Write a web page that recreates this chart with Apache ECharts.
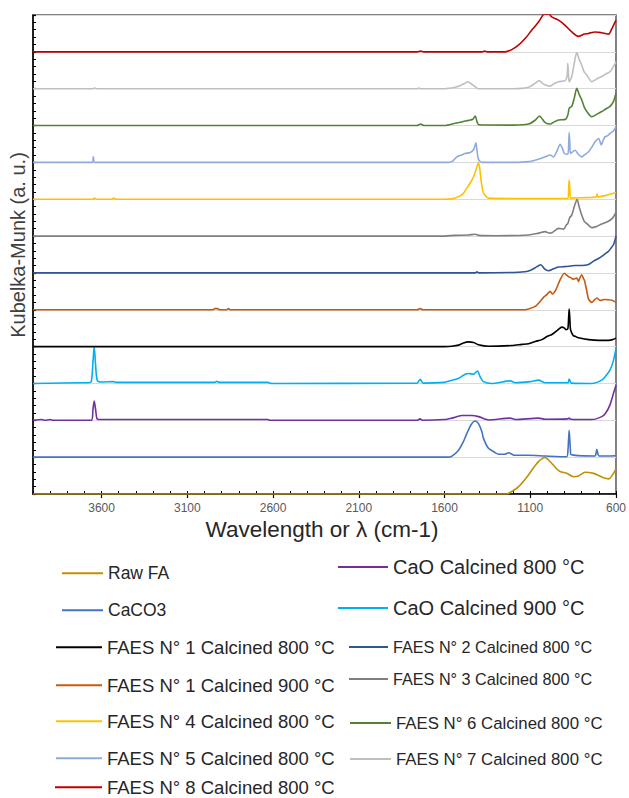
<!DOCTYPE html>
<html>
<head>
<meta charset="utf-8">
<script src="https://cdn.jsdelivr.net/npm/echarts@6/dist/echarts.min.js"></script>
<style>html,body{margin:0;padding:0;background:#fff}#c{width:629px;height:798px}</style>
</head>
<body>
<div id="c"></div>
<script>
// ---------- DATA ----------
const seriesNames = [
  'Raw FA','CaCO3','CaO Calcined 800 °C','CaO Calcined 900 °C',
  'FAES N° 1 Calcined 800 °C','FAES N° 1 Calcined 900 °C','FAES N° 2 Calcined 800 °C',
  'FAES N° 3 Calcined 800 °C','FAES N° 4 Calcined 800 °C','FAES N° 5 Calcined 800 °C',
  'FAES N° 6 Calcined 800 °C','FAES N° 7 Calcined 800 °C','FAES N° 8 Calcined 800 °C'
];
const offsets = [0,1,2,3,4,5,6,7,8,9,10,11,12];
const xTicks = [600,1100,1600,2100,2600,3100,3600];

const rawFA = [[4000,0],[1240,0],[1217,0.04],[1168,0.2],[1110,0.52],[1080,0.72],[1052,0.88],[1030,0.96],[1013,0.99],[995,0.93],[974,0.83],[950,0.7],[926,0.61],[887,0.56],[848,0.47],[819,0.49],[780,0.59],[731,0.56],[701,0.5],[673,0.44],[643,0.41],[620,0.52],[600,0.68]];
const caco3 = [[4000,0],[1580,0],[1557,0.03],[1518,0.19],[1490,0.42],[1470,0.64],[1445,0.88],[1421,0.98],[1402,0.91],[1382,0.69],[1373,0.51],[1344,0.24],[1310,0.14],[1285,0.08],[1250,0.08],[1227,0.12],[1200,0.06],[1188,0.05],[1110,0.05],[1013,0.03],[888,0.01],[880,0.2],[873,0.73],[866,0.2],[863,0.07],[722,0.03],[716,0.12],[712,0.21],[705,0.08],[698,0.03],[600,0.04]];
const cao800 = [[4000,0],[3950,0.02],[3930,0],[3900,0.02],[3880,0],[3660,0],[3650,0.3],[3643,0.52],[3635,0.3],[3625,0.03],[3600,0.02],[2630,0.02],[2620,0],[1760,0],[1742,0.04],[1730,0],[1600,0.02],[1557,0.06],[1500,0.13],[1440,0.13],[1402,0.1],[1360,0.03],[1344,0.01],[1217,0.06],[1188,0.02],[1052,0.06],[1013,0.03],[880,0.04],[873,0.06],[865,0.03],[741,0.02],[683,0.1],[660,0.2],[635,0.42],[614,0.74],[600,0.95]];
const cao900 = [[4000,0],[3720,0.02],[3680,0.02],[3660,0.05],[3650,0.6],[3643,1.0],[3635,0.5],[3625,0.08],[3600,0.04],[3530,0.05],[3515,0.03],[2940,0.03],[2929,0.06],[2915,0.03],[2630,0.03],[2610,0],[1760,0.01],[1742,0.11],[1725,0.01],[1600,0.03],[1577,0.06],[1518,0.14],[1480,0.25],[1460,0.27],[1431,0.25],[1408,0.34],[1392,0.18],[1373,0.05],[1324,0],[1217,0.07],[1188,0.02],[1100,0.05],[1052,0.09],[1013,0.02],[880,0.02],[873,0.12],[860,0.01],[741,0],[683,0.09],[660,0.2],[635,0.36],[615,0.62],[600,0.95]];
const faes1_800 = [[4000,0],[1600,0],[1557,0.01],[1518,0.04],[1490,0.1],[1460,0.13],[1430,0.11],[1402,0.05],[1344,0.01],[1207,0.03],[1150,0.06],[1110,0.08],[1070,0.14],[1032,0.19],[1000,0.28],[974,0.33],[940,0.45],[916,0.53],[900,0.5],[893,0.46],[881,0.48],[876,0.8],[873,1.02],[869,0.75],[865,0.46],[850,0.3],[838,0.28],[819,0.24],[760,0.19],[700,0.17],[643,0.17],[620,0.19],[600,0.23]];
const faes1_900 = [[4000,0],[2950,0],[2940,0.03],[2925,0.03],[2910,0],[2870,0],[2860,0.03],[2850,0],[1760,0],[1742,0.03],[1725,0],[1130,0],[1110,0.02],[1071,0.09],[1042,0.23],[1020,0.35],[1003,0.41],[984,0.5],[970,0.43],[951,0.54],[926,0.81],[901,0.99],[890,0.95],[877,0.9],[860,0.86],[848,0.83],[829,0.86],[819,0.77],[810,0.87],[800,0.95],[790,0.85],[784,0.8],[770,0.5],[760,0.29],[741,0.2],[725,0.27],[712,0.32],[692,0.25],[670,0.28],[643,0.27],[620,0.25],[600,0.2]];
const faes2 = [[4000,0],[1420,0],[1411,0.03],[1400,0],[1169,0.02],[1110,0.05],[1071,0.14],[1050,0.2],[1038,0.22],[1017,0.11],[994,0.06],[960,0.12],[935,0.16],[900,0.17],[877,0.18],[838,0.2],[800,0.2],[760,0.23],[731,0.32],[700,0.4],[683,0.45],[660,0.53],[643,0.59],[625,0.7],[614,0.77],[600,1.0]];
const faes3 = [[4000,0],[1600,0],[1538,0.02],[1460,0.03],[1421,0.05],[1400,0.02],[1300,0.01],[1110,0.03],[1050,0.08],[1013,0.12],[990,0.08],[974,0.09],[950,0.17],[935,0.21],[905,0.19],[890,0.3],[881,0.34],[870,0.5],[858,0.57],[843,0.8],[827,1.0],[815,0.8],[800,0.57],[785,0.4],[770,0.34],[741,0.23],[710,0.27],[683,0.33],[660,0.37],[635,0.43],[615,0.52],[600,0.64]];
const faes4 = [[4000,0],[3650,0],[3643,0.03],[3630,0],[3540,0],[3530,0.03],[3515,0],[1600,0],[1557,0.01],[1518,0.07],[1490,0.16],[1470,0.3],[1450,0.44],[1431,0.61],[1415,0.82],[1402,0.99],[1395,0.85],[1385,0.45],[1375,0.2],[1363,0.1],[1344,0.03],[1200,0.02],[880,0.02],[876,0.3],[873,0.52],[869,0.3],[865,0.03],[740,0.05],[715,0.06],[710,0.14],[705,0.06],[663,0.1],[630,0.14],[600,0.18]];
const faes5 = [[4000,0],[3655,0],[3648,0.15],[3640,0],[1580,0],[1557,0.02],[1528,0.15],[1500,0.2],[1480,0.24],[1450,0.27],[1430,0.35],[1417,0.53],[1410,0.3],[1402,0.08],[1382,0],[1200,0],[1110,0.02],[1050,0.09],[1013,0.15],[984,0.2],[964,0.15],[945,0.3],[926,0.49],[910,0.35],[901,0.24],[881,0.22],[876,0.5],[873,0.81],[869,0.5],[865,0.24],[850,0.3],[838,0.33],[820,0.22],[800,0.15],[780,0.22],[760,0.29],[740,0.42],[722,0.56],[701,0.65],[692,0.55],[686,0.47],[675,0.6],[663,0.7],[650,0.72],[635,0.79],[615,0.85],[600,0.97]];
const faes6 = [[4000,0],[1760,0],[1740,0.04],[1720,0],[1600,0],[1538,0.06],[1490,0.11],[1460,0.14],[1435,0.17],[1421,0.26],[1410,0.1],[1400,0.02],[1200,0.01],[1110,0.04],[1070,0.15],[1046,0.26],[1030,0.18],[1013,0.08],[984,0.04],[960,0.1],[935,0.15],[893,0.17],[880,0.3],[873,0.47],[858,0.52],[843,0.75],[829,1.01],[815,0.85],[800,0.7],[785,0.5],[770,0.38],[741,0.24],[710,0.31],[683,0.38],[660,0.45],[635,0.52],[615,0.65],[600,0.88]];
const faes7 = [[4000,0],[3650,0],[3643,0.02],[3630,0],[1760,0],[1752,0.02],[1740,0],[1600,0],[1538,0.04],[1510,0.08],[1480,0.15],[1464,0.19],[1440,0.12],[1420,0.05],[1402,0],[1200,0],[1110,0.04],[1070,0.15],[1048,0.22],[1030,0.15],[1013,0.1],[984,0.07],[960,0.14],[935,0.19],[897,0.22],[885,0.35],[881,0.69],[877,0.4],[873,0.19],[858,0.33],[843,0.7],[829,0.98],[815,0.8],[800,0.64],[785,0.45],[770,0.37],[741,0.19],[710,0.27],[683,0.33],[660,0.4],[635,0.46],[615,0.6],[600,0.73]];
const faes8 = [[4000,0],[1760,0],[1740,0.02],[1720,0],[1380,0],[1367,0.02],[1350,0],[1246,0],[1208,0.06],[1169,0.18],[1130,0.36],[1091,0.59],[1052,0.81],[1030,0.97],[1020,1.02],[990,1.02],[975,0.95],[935,0.86],[897,0.72],[858,0.54],[819,0.42],[800,0.45],[790,0.48],[760,0.5],[722,0.54],[700,0.53],[683,0.52],[643,0.48],[624,0.63],[600,0.86]];

const spectra = [rawFA,caco3,cao800,cao900,faes1_800,faes1_900,faes2,faes3,faes4,faes5,faes6,faes7,faes8];

// ---------- STYLE ----------
const colors = ['#bf9000','#4472c4','#7030a0','#00b0f0','#000000','#c55a11','#2f5597','#7f7f7f','#ffc000','#8faadc','#548235','#bfbfbf','#c00000'];
const FONT = "'Liberation Sans', Arial, sans-serif";
// legend layout: [seriesIndex, lineLeft, lineWidth, centerY, fontSize]
const legendLayout = [
  [0, 62, 41, 573, 17.5],
  [1, 62, 41, 610, 17.5],
  [4, 56, 46, 647, 18.5],
  [5, 56, 46, 685, 18.5],
  [8, 56, 46, 721, 18.5],
  [9, 56, 46, 758, 18.5],
  [12, 55, 47, 787, 18.5],
  [2, 338, 50, 567, 20],
  [3, 338, 50, 608, 20],
  [6, 349, 39, 647, 16.2],
  [7, 349, 39, 679, 16.2],
  [10, 350, 41, 723, 16.8],
  [11, 350, 41, 759, 16.8]
];

const chart = echarts.init(document.getElementById('c'), null, {renderer:'svg'});

const series = spectra.map((s, i) => ({
  name: seriesNames[i],
  type: 'line',
  xAxisIndex: 0,
  data: s.map(p => [p[0], p[1] + offsets[i]]),
  showSymbol: false,
  symbol: 'none',
  smooth: 0.25,
  lineStyle: {color: colors[i], width: 1.6},
  itemStyle: {color: colors[i]},
  emphasis: {disabled: true},
  animation: false,
  z: 3 + i
}));

const legends = legendLayout.map(l => ({
  data: [seriesNames[l[0]]],
  left: l[1],
  top: l[3] - l[4] * 0.5,
  orient: 'horizontal',
  padding: 0,
  icon: 'rect',
  itemWidth: l[2],
  itemHeight: 2,
  selectedMode: false,
  textStyle: {fontSize: l[4], fontFamily: FONT, color: '#262626', lineHeight: l[4]}
}));

chart.setOption({
  animation: false,
  backgroundColor: '#fff',
  grid: {left: 33, right: 11, top: 15, bottom: 304, show: true, borderColor: '#595959', borderWidth: 1.5, containLabel: false},
  xAxis: [{
    type: 'value', inverse: true, min: 600, max: 4000, interval: 500,
    axisLine: {show: true, lineStyle: {color: '#000', width: 1.5}},
    axisTick: {show: true, length: 4, lineStyle: {color: '#000', width: 1.2}},
    axisLabel: {color: '#595959', fontSize: 12, fontFamily: FONT, margin: 8, showMaxLabel: false,
      formatter: v => xTicks.indexOf(v) >= 0 ? String(v) : ''},
    splitLine: {show: false}
  }, {
    type: 'value', inverse: true, min: 600, max: 4000, interval: 100, position: 'bottom',
    axisLine: {show: false},
    axisTick: {show: true, inside: true, length: 3, lineStyle: {color: '#000', width: 1}},
    axisLabel: {show: false},
    splitLine: {show: false}
  }],
  yAxis: {
    type: 'value', min: 0, max: 13, interval: 1,
    axisLine: {show: true, lineStyle: {color: '#000', width: 1.5}},
    axisTick: {show: true, inside: true, length: 3, lineStyle: {color: '#000', width: 1.2}},
    minorTick: {show: true, splitNumber: 5, length: 3, lineStyle: {color: '#000', width: 1}},
    axisLabel: {show: false},
    splitLine: {show: true, lineStyle: {color: '#d9d9d9', width: 1.2}}
  },
  legend: legends,
  graphic: [
    {type: 'text', x: 322, y: 529, z: 100,
      style: {text: 'Wavelength or λ (cm-1)', fontSize: 22.5, fontFamily: FONT, fill: '#262626',
        align: 'center', verticalAlign: 'middle', textAlign: 'center', textVerticalAlign: 'middle'}},
    {type: 'text', x: 18, y: 245, rotation: Math.PI / 2, z: 100,
      style: {text: 'Kubelka-Munk (a. u.)', fontSize: 20, fontFamily: FONT, fill: '#404040',
        align: 'center', verticalAlign: 'middle', textAlign: 'center', textVerticalAlign: 'middle'}}
  ],
  series: series
});
</script>
</body>
</html>
